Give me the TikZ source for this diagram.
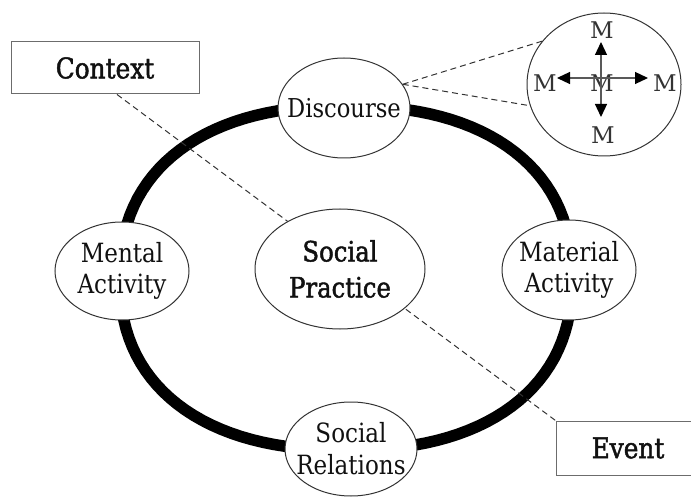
\documentclass[tikz,border=0pt]{standalone}
\usepackage{fontspec}
\setmainfont{DejaVu Serif}[FakeStretch=0.87]
\newfontfamily\heavyfont{DejaVu Serif}[FakeStretch=0.87, FakeBold=1.6]
\newfontfamily\mfont{DejaVu Serif}
\usetikzlibrary{shapes.geometric,arrows.meta,backgrounds}
\definecolor{ink}{HTML}{111111}
\definecolor{edge}{HTML}{333333}
\tikzset{
  bubble/.style={ellipse, draw=edge, line width=1pt, fill=white, inner sep=0pt},
  btext/.style={inner sep=0pt, align=center, text=ink},
  labelbox/.style={rectangle, draw=gray!85!black, line width=1pt, fill=white, inner sep=0pt, text=ink},
  dashline/.style={draw=edge, line width=1pt, dash pattern=on 6pt off 4pt},
  ring/.style={line width=11.5pt, line join=round},
  marrow/.style={draw=gray!70!black, line width=1.2pt, -{Triangle[length=13pt,width=12pt,fill=black,color=black]}},
  mlabel/.style={inner sep=0pt, text=edge, font=\mfont\fontsize{23}{23}\selectfont}
}
\begin{document}
\begin{tikzpicture}[x=1pt,y=-1pt]
\useasboundingbox (0,0) rectangle (691,497);
% nodes
\node[bubble, minimum width=132pt, minimum height=100pt,
  label={[btext, font=\fontsize{26}{30}\selectfont]center:Discourse}] (disc) at (344,108) {};
\node[bubble, minimum width=134pt, minimum height=98pt,
  label={[btext, font=\fontsize{26.5}{31}\selectfont]center:Mental\\Activity}] (ment) at (122,271) {};
\node[bubble, minimum width=170pt, minimum height=120pt,
  label={[btext, font=\heavyfont\fontsize{28}{36}\selectfont]center:Social\\Practice}] (soc) at (340,269) {};
\node[bubble, minimum width=134pt, minimum height=100pt,
  label={[btext, font=\fontsize{26.5}{31}\selectfont]center:Material\\Activity}] (mat) at (569,270) {};
\node[bubble, minimum width=132pt, minimum height=94pt,
  label={[btext, font=\fontsize{26.5}{32}\selectfont]center:Social\\Relations}] (rel) at (351,449) {};
\node[labelbox, minimum width=188pt, minimum height=52pt, font=\heavyfont\fontsize{28.5}{28.5}\selectfont] (context) at (105,68) {Context};
\node[labelbox, minimum width=144pt, minimum height=54pt, font=\heavyfont\fontsize{28.5}{28.5}\selectfont] (event) at (628,448) {Event};
\node[ellipse, draw=edge, line width=1pt, minimum width=154pt, minimum height=143pt, inner sep=0pt] (circ) at (604,84.5) {};
% M labels
\node[mlabel] (mc) at (602,83) {M};
\node[mlabel] (mt) at (602,30) {M};
\node[mlabel] (mb) at (603,135) {M};
\node[mlabel] (ml) at (545,83) {M};
\node[mlabel] (mr) at (665,83) {M};
\coordinate (ac) at (601,78);
\coordinate (tU) at (601,42);
\coordinate (tD) at (601,117);
\coordinate (tL) at (557,78);
\coordinate (tR) at (648,78);
\draw[marrow] (ac) -- (tU);
\draw[marrow] (ac) -- (tD);
\draw[marrow] (ac) -- (tL);
\draw[marrow] (ac) -- (tR);
% dashed connectors to the circle
\coordinate (dz) at (disc.22);
\draw[dashline] (dz) -- (circ.145);
\draw[dashline] (dz) -- (circ.196);
\begin{scope}[on background layer]
\draw[ring] plot[domain=0.5:360.5, samples=121]
  ({346+226*sign(cos(\x))*pow(abs(cos(\x)),0.87)}, {278+172*sign(sin(\x))*pow(abs(sin(\x)),0.87)}) -- cycle;
\coordinate (ctxA) at ([xshift=12pt]context.south);
\draw[dashline] (ctxA) -- (event.north west);
\end{scope}
\end{tikzpicture}
\end{document}
